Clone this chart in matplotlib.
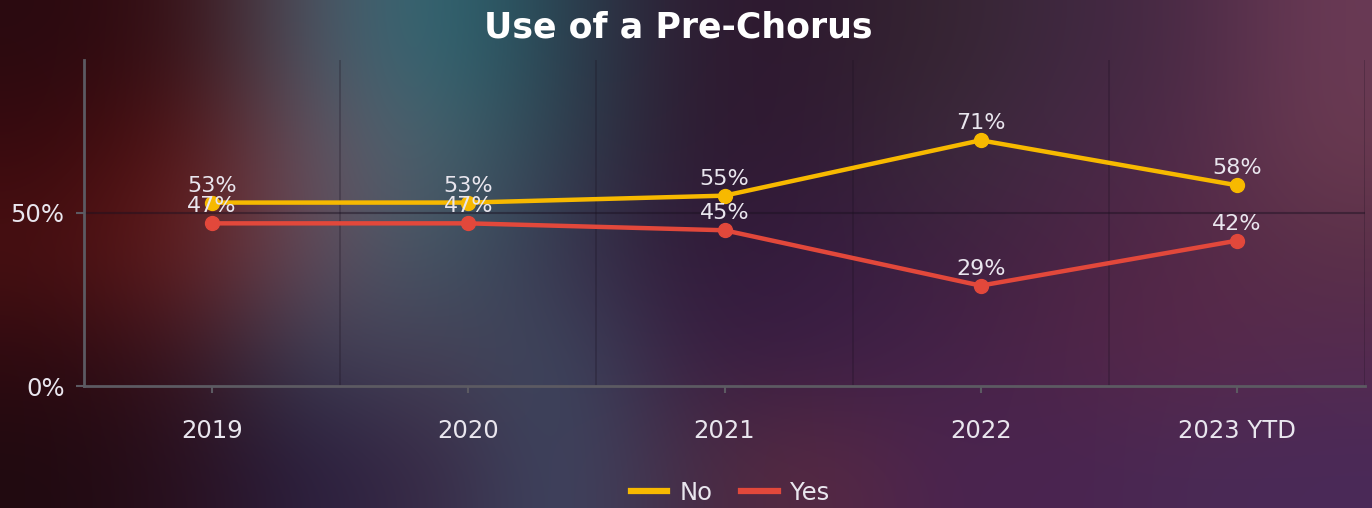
import numpy as np
import matplotlib.pyplot as plt
from matplotlib.colors import to_rgb

# chart data
years = ["2019", "2020", "2021", "2022", "2023 YTD"]
no_share = [53, 53, 55, 71, 58]
yes_share = [47, 47, 45, 29, 42]

# coarse colour map of the blurred backdrop (rows top -> bottom)
bg_rows = [
    ["#2a0a10", "#3a1015", "#525868", "#2e6a75", "#2a4452", "#2e1a30", "#2e1a30", "#352530", "#3e2840", "#4a2a45", "#6a3a55"],
    ["#3a0a0e", "#5a1515", "#6a5565", "#466670", "#2e4050", "#2e1a30", "#321a35", "#3a2a3a", "#452845", "#502a48", "#6a3a50"],
    ["#4a1012", "#6a2020", "#654e60", "#3e5866", "#3a3550", "#301a38", "#361c40", "#3e2040", "#4a2445", "#552848", "#5a3048"],
    ["#2e0a10", "#3a1520", "#3a4058", "#4a4055", "#3a4a60", "#3a1e40", "#3a1e45", "#442248", "#4e2548", "#58284a", "#552a50"],
    ["#200a10", "#2a1020", "#2a2040", "#3a2a45", "#3e4a65", "#452a45", "#5a2a40", "#4a2450", "#4a2450", "#4a2a55", "#4a2a58"],
]

C_NO = "#f7b900"
C_YES = "#e2483b"
C_TEXT = "#e9e6ee"
C_AXIS = "#5c5a62"

plt.rcParams["font.family"] = ["DejaVu Sans"]

fig = plt.figure(figsize=(13.72, 5.08), dpi=100)

# background
bg = fig.add_axes([0, 0, 1, 1], zorder=0)
img = np.array([[to_rgb(c) for c in row] for row in bg_rows])
bg.imshow(img, aspect="auto", interpolation="bicubic", extent=(0, 1, 0, 1))
bg.set_axis_off()

ax = fig.add_axes([84 / 1372, 1 - 386 / 508, (1365 - 84) / 1372, (386 - 60) / 508], zorder=1)
ax.patch.set_alpha(0)

x = np.arange(len(years))
ax.plot(x, no_share, color=C_NO, lw=3.2, marker="o", ms=10, label="No", zorder=3)
ax.plot(x, yes_share, color=C_YES, lw=3.2, marker="o", ms=10, label="Yes", zorder=3)

for xi, v in zip(x, no_share):
    ax.annotate(f"{v}%", (xi, v), xytext=(0, 5), textcoords="offset points",
                ha="center", va="bottom", color=C_TEXT, fontsize=16, zorder=4)
for xi, v in zip(x, yes_share):
    ax.annotate(f"{v}%", (xi, v), xytext=(0, 5), textcoords="offset points",
                ha="center", va="bottom", color=C_TEXT, fontsize=16, zorder=4)

ax.set_xlim(-0.5, len(years) - 0.5)
ax.set_ylim(0, 94.2)
ax.set_xticks(x)
ax.set_xticklabels(years)
ax.set_yticks([0, 50])
ax.set_yticklabels(["0%", "50%"])

# grid: category boundaries + 50% line
for b in np.arange(-0.5, len(years), 1.0)[1:]:
    ax.axvline(b, color="#1a1020", alpha=0.3, lw=1.2, zorder=1)
ax.axhline(50, color="#1a1020", alpha=0.45, lw=1.5, zorder=1)

for s in ["top", "right"]:
    ax.spines[s].set_visible(False)
for s in ["left", "bottom"]:
    ax.spines[s].set_color(C_AXIS)
    ax.spines[s].set_linewidth(2)

ax.tick_params(axis="x", colors=C_AXIS, length=5, width=1.5, pad=19, labelcolor=C_TEXT, labelsize=17.5)
ax.tick_params(axis="y", colors=C_AXIS, length=6, width=1.5, pad=8, labelcolor=C_TEXT, labelsize=17.5)

fig.text(0.494, 0.945, "Use of a Pre-Chorus", ha="center", va="center",
         color="white", fontsize=25, fontweight="bold")

leg = fig.legend(loc="center", bbox_to_anchor=(0.532, 0.03), ncol=2, frameon=False,
                 fontsize=17.5, handlelength=1.5, handletextpad=0.5, columnspacing=1.2)
for h in leg.legend_handles:
    h.set_marker("")
    h.set_linewidth(4.5)
for t in leg.get_texts():
    t.set_color(C_TEXT)

fig.savefig("out.png", dpi=100)
